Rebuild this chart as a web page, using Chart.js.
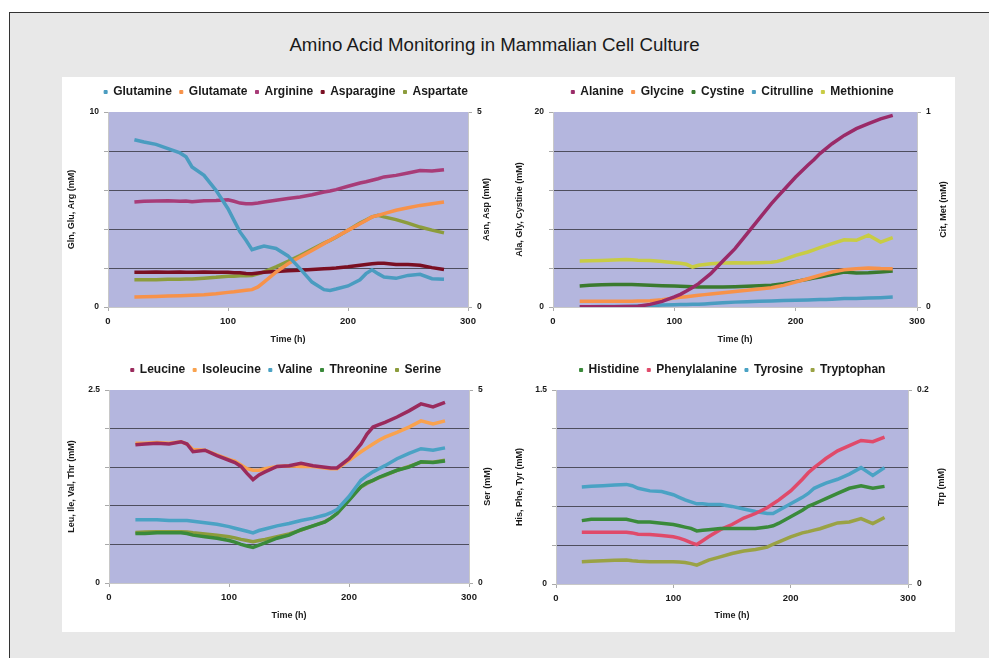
<!DOCTYPE html>
<html><head><meta charset="utf-8">
<script src="https://cdn.jsdelivr.net/npm/chart.js@4.4.0/dist/chart.umd.min.js"></script>
<style>
body{margin:0;width:989px;height:658px;background:#fff;position:relative;overflow:hidden;font-family:"Liberation Sans",Arial,sans-serif;}
#frame{position:absolute;left:9px;top:12px;width:990px;height:660px;border:1px solid #333;background:#e8e8e8;}
#title{position:absolute;left:0;width:989px;top:34px;text-align:center;font-size:18.7px;color:#1a1a1a;}
#panel{position:absolute;left:62px;top:77px;width:893px;height:555px;background:#fff;}
.c{position:absolute;}
</style></head><body>
<div id="frame"></div>
<div id="title">Amino Acid Monitoring in Mammalian Cell Culture</div>
<div id="panel"></div>
<canvas class="c" id="c1" width="448" height="278" style="left:62px;top:78px"></canvas>
<canvas class="c" id="c2" width="445" height="278" style="left:510px;top:78px"></canvas>
<canvas class="c" id="c3" width="448" height="276" style="left:62px;top:356px"></canvas>
<canvas class="c" id="c4" width="445" height="276" style="left:510px;top:356px"></canvas>
<script>
// Time points (h)
const times = [22,30,40,50,60,65,70,80,90,100,105,110,115,120,125,130,140,150,160,170,180,185,190,200,210,215,220,225,230,240,250,260,270,280];
const xTicks = [0,100,200,300];

// Panel 1 (mM)
const glutamine  = [8.58,8.46,8.34,8.12,7.9,7.7,7.18,6.75,5.98,5.04,4.44,3.85,3.42,2.94,3.04,3.13,3.0,2.62,1.97,1.28,0.89,0.85,0.92,1.08,1.4,1.71,1.91,1.71,1.54,1.47,1.62,1.68,1.45,1.42];
const glutamate  = [0.51,0.52,0.54,0.56,0.58,0.59,0.6,0.63,0.68,0.75,0.78,0.82,0.86,0.89,1.03,1.28,1.79,2.22,2.56,2.9,3.25,3.42,3.59,3.93,4.27,4.44,4.62,4.7,4.79,4.96,5.09,5.21,5.3,5.38];
const arginine   = [5.38,5.42,5.44,5.45,5.42,5.44,5.4,5.45,5.46,5.5,5.42,5.33,5.3,5.3,5.33,5.38,5.47,5.56,5.64,5.76,5.9,5.95,6.02,6.19,6.36,6.42,6.5,6.58,6.67,6.75,6.87,7.0,6.97,7.04];
const asparagine = [0.89,0.89,0.9,0.89,0.9,0.89,0.89,0.9,0.89,0.89,0.88,0.88,0.86,0.85,0.87,0.89,0.91,0.93,0.94,0.96,0.98,0.99,1.0,1.03,1.07,1.09,1.11,1.12,1.12,1.09,1.09,1.07,1.01,0.96];
const aspartate  = [0.70,0.70,0.70,0.71,0.71,0.72,0.72,0.74,0.76,0.79,0.79,0.80,0.80,0.81,0.85,0.90,1.03,1.17,1.32,1.48,1.64,1.71,1.79,1.97,2.15,2.23,2.31,2.35,2.31,2.24,2.15,2.05,1.97,1.9];

// Panel 2 (mM)
const alanine    = [0.02,0.02,0.02,0.03,0.04,0.05,0.07,0.27,0.58,1.03,1.3,1.64,2.0,2.39,2.9,3.42,4.72,5.98,7.52,9.06,10.6,11.3,11.97,13.33,14.53,15.1,15.73,16.25,16.75,17.6,18.29,18.8,19.3,19.66];
const glycine    = [0.58,0.58,0.58,0.6,0.6,0.6,0.62,0.65,0.75,0.92,0.99,1.06,1.13,1.2,1.27,1.33,1.47,1.59,1.71,1.84,1.98,2.1,2.22,2.56,2.9,3.08,3.25,3.42,3.59,3.83,3.93,4.0,3.95,3.93];
const cystine    = [2.15,2.22,2.29,2.3,2.32,2.3,2.27,2.22,2.18,2.15,2.12,2.1,2.07,2.05,2.05,2.06,2.05,2.08,2.12,2.17,2.22,2.3,2.39,2.63,2.84,2.96,3.08,3.2,3.32,3.59,3.5,3.52,3.6,3.69];
const citrulline = [0.001,0.001,0.002,0.002,0.003,0.004,0.005,0.007,0.01,0.012,0.013,0.013,0.014,0.014,0.016,0.018,0.022,0.025,0.027,0.029,0.031,0.032,0.033,0.034,0.036,0.037,0.038,0.039,0.04,0.043,0.044,0.046,0.048,0.051];
const methionine = [0.236,0.237,0.239,0.241,0.244,0.242,0.24,0.238,0.233,0.227,0.224,0.219,0.205,0.214,0.218,0.222,0.226,0.227,0.226,0.227,0.229,0.234,0.243,0.265,0.282,0.293,0.304,0.315,0.325,0.345,0.342,0.368,0.333,0.356];

// Panel 3 (mM)
const leucine    = [1.79,1.8,1.81,1.8,1.83,1.8,1.70,1.72,1.65,1.59,1.56,1.51,1.42,1.34,1.40,1.44,1.51,1.52,1.55,1.52,1.5,1.49,1.49,1.61,1.8,1.93,2.02,2.05,2.08,2.15,2.23,2.32,2.28,2.34];
const isoleucine = [1.81,1.81,1.82,1.81,1.83,1.8,1.73,1.72,1.66,1.6,1.58,1.53,1.48,1.46,1.46,1.48,1.51,1.52,1.51,1.51,1.49,1.48,1.48,1.59,1.70,1.75,1.8,1.85,1.89,1.95,2.02,2.1,2.06,2.1];
const valine     = [0.82,0.82,0.82,0.81,0.81,0.81,0.8,0.78,0.76,0.73,0.71,0.69,0.67,0.65,0.68,0.70,0.74,0.77,0.81,0.84,0.88,0.91,0.95,1.12,1.33,1.39,1.44,1.48,1.52,1.61,1.68,1.74,1.72,1.75];
const threonine  = [0.64,0.64,0.65,0.65,0.65,0.64,0.62,0.6,0.58,0.55,0.53,0.5,0.48,0.46,0.49,0.52,0.58,0.62,0.69,0.74,0.79,0.84,0.9,1.07,1.25,1.3,1.33,1.37,1.4,1.46,1.5,1.57,1.56,1.58];
const serine     = [1.31,1.32,1.33,1.33,1.33,1.32,1.3,1.27,1.24,1.2,1.17,1.13,1.1,1.07,1.1,1.13,1.2,1.27,1.37,1.48,1.59,1.68,1.8,2.16,2.49,2.58,2.66,2.73,2.79,2.92,3.02,3.13,3.13,3.18];

// Panel 4 (mM)
const histidine     = [0.49,0.5,0.5,0.5,0.5,0.49,0.48,0.48,0.47,0.46,0.45,0.44,0.43,0.41,0.415,0.42,0.43,0.43,0.43,0.43,0.44,0.45,0.47,0.52,0.57,0.6,0.62,0.64,0.66,0.70,0.74,0.76,0.74,0.755];
const phenylalanine = [0.40,0.40,0.40,0.40,0.40,0.395,0.385,0.383,0.375,0.365,0.355,0.34,0.32,0.305,0.335,0.365,0.42,0.46,0.51,0.545,0.59,0.62,0.65,0.72,0.81,0.86,0.90,0.935,0.97,1.03,1.07,1.11,1.10,1.135];
const tyrosine      = [0.75,0.755,0.76,0.765,0.77,0.76,0.74,0.72,0.715,0.69,0.67,0.65,0.635,0.62,0.62,0.615,0.615,0.6,0.58,0.56,0.545,0.545,0.57,0.62,0.67,0.7,0.74,0.76,0.78,0.81,0.85,0.90,0.84,0.90];
const tryptophan    = [0.023,0.0235,0.024,0.0245,0.0248,0.024,0.0235,0.023,0.023,0.023,0.0228,0.0222,0.021,0.0195,0.022,0.0247,0.028,0.0315,0.034,0.0356,0.038,0.041,0.0435,0.0486,0.0527,0.054,0.0555,0.057,0.059,0.063,0.064,0.0675,0.0623,0.0685];

const FONT = '"Liberation Sans", Arial, sans-serif';
const BG = '#b4b6de';
const plotBg = {
  id:'plotBg',
  beforeDraw(chart){
    const {ctx, chartArea:a} = chart;
    ctx.save(); ctx.fillStyle = BG; ctx.fillRect(a.left, a.top, a.right-a.left, a.bottom-a.top); ctx.restore();
  }
};
const legendGap = {
  id:'legendGap',
  beforeInit(chart){
    const lg = chart.legend; if (!lg) return;
    const fit = lg.fit;
    lg.fit = function(){ fit.call(lg); lg.height += 4; };
  }
};
// right-hand axis title, reading bottom-to-top like the left one
const rightTitle = {
  id:'rightTitle',
  afterDraw(chart, args, opts){
    const {ctx, chartArea:a} = chart;
    ctx.save();
    ctx.translate(opts.x, (a.top + a.bottom) / 2);
    ctx.rotate(-Math.PI / 2);
    ctx.font = 'bold 9px ' + FONT;
    ctx.fillStyle = '#1a1a1a';
    ctx.textAlign = 'center'; ctx.textBaseline = 'middle';
    ctx.fillText(opts.text, 0, 0);
    ctx.restore();
  }
};

function pts(arr){ return arr.map((v,i)=>({x:times[i], y:v})); }

function makeChart(id, cfg){
  const xTickFont = {family:FONT, size:9.5, weight:'bold'};
  const yTickFont = {family:FONT, size:8.5, weight:'bold'};
  const titleFont = {family:FONT, size:9, weight:'bold'};
  const datasets = cfg.series.map(s => ({
    label:s.label, data:pts(s.data), borderColor:s.color, backgroundColor:s.color,
    borderWidth:3.5, pointRadius:0, tension:0, yAxisID:s.axis, pointStyle:'rect'
  }));
  const endOnly = (max) => (v) => (v === 0 || Math.abs(v - max) < 1e-9) ? String(v) : '';
  new Chart(document.getElementById(id), {
    type:'line',
    data:{datasets},
    plugins:[plotBg, legendGap, rightTitle],
    options:{
      responsive:false, animation:false, devicePixelRatio:1,
      layout:{padding:{top:0,left:0,right:0,bottom:0}},
      plugins:{
        legend:{position:'top', labels:{usePointStyle:true, pointStyle:'rect', boxWidth:3, boxHeight:3, padding:8,
          color:'#1a1a1a', font:{family:FONT, size:12, weight:'bold'},
          generateLabels:(chart)=>Chart.defaults.plugins.legend.labels.generateLabels(chart).map(l=>Object.assign(l,{lineWidth:1}))}},
        tooltip:{enabled:false},
        rightTitle:{x:cfg.rtx, text:cfg.rtitle}
      },
      scales:{
        x:{type:'linear', min:0, max:300, afterBuildTicks:(s)=>{s.ticks = xTicks.map(v=>({value:v}));},
          grid:{drawOnChartArea:false, tickLength:4, color:'#aaaaaa'}, border:{color:'#c8c8c8'},
          ticks:{font:xTickFont, color:'#1a1a1a', padding:5, maxRotation:0},
          title:{display:true, text:'Time (h)', font:titleFont, color:'#1a1a1a', padding:{top:2,bottom:11}},
          afterFit:(s)=>{s.height = cfg.xh;}},
        yL:{position:'left', min:0, max:cfg.lmax, afterBuildTicks:(s)=>{s.ticks = cfg.lticks.map(v=>({value:v}));},
          grid:{color:(c)=> (c.tick && (c.tick.value===0 || c.tick.value===cfg.lmax)) ? 'rgba(0,0,0,0)' : '#4e4e5e', tickLength:4, tickColor:'#aaaaaa', lineWidth:1},
          border:{color:'#c8c8c8'},
          ticks:{font:yTickFont, color:'#1a1a1a', padding:5, callback:endOnly(cfg.lmax)},
          title:{display:true, text:cfg.ltitle, font:titleFont, color:'#1a1a1a', padding:{top:4,bottom:0}},
          afterFit:(s)=>{s.width = cfg.lw;}},
        yR:{position:'right', min:0, max:cfg.rmax, afterBuildTicks:(s)=>{s.ticks = cfg.rticks.map(v=>({value:v}));},
          grid:{drawOnChartArea:false, tickLength:4, color:'#aaaaaa'}, border:{color:'#c8c8c8'},
          ticks:{font:yTickFont, color:'#1a1a1a', padding:5, callback:endOnly(cfg.rmax)},
          title:{display:false},
          afterFit:(s)=>{s.width = cfg.rw;}}
      }
    }
  });
}

makeChart('c1', {lmax:10, lticks:[0,2,4,6,8,10], rmax:5, rticks:[0,5], ltitle:'Gln, Glu, Arg (mM)', rtitle:'Asn, Asp (mM)', rtx:425, lw:46, rw:42, xh:49,
  series:[
    {label:'Glutamine', data:glutamine, color:'#4a9cc0', axis:'yL'},
    {label:'Glutamate', data:glutamate, color:'#f7924a', axis:'yL'},
    {label:'Arginine', data:arginine, color:'#a83c78', axis:'yL'},
    {label:'Asparagine', data:asparagine, color:'#7a0f22', axis:'yR'},
    {label:'Aspartate', data:aspartate, color:'#8c9c3c', axis:'yR'}
  ]});
makeChart('c2', {lmax:20, lticks:[0,4,8,12,16,20], rmax:1, rticks:[0,1], ltitle:'Ala, Gly, Cystine (mM)', rtitle:'Cit, Met (mM)', rtx:434, lw:43, rw:38, xh:49,
  series:[
    {label:'Alanine', data:alanine, color:'#9a2a68', axis:'yL'},
    {label:'Glycine', data:glycine, color:'#f7924a', axis:'yL'},
    {label:'Cystine', data:cystine, color:'#3a7a2e', axis:'yL'},
    {label:'Citrulline', data:citrulline, color:'#4a9cc0', axis:'yR'},
    {label:'Methionine', data:methionine, color:'#c8cc44', axis:'yR'}
  ]});
makeChart('c3', {lmax:2.5, lticks:[0,0.5,1,1.5,2,2.5], rmax:5, rticks:[0,5], ltitle:'Leu, Ile, Val, Thr (mM)', rtitle:'Ser (mM)', rtx:426, lw:47, rw:41, xh:49,
  series:[
    {label:'Leucine', data:leucine, color:'#9a2a5c', axis:'yL'},
    {label:'Isoleucine', data:isoleucine, color:'#f9a24e', axis:'yL'},
    {label:'Valine', data:valine, color:'#4aa2c4', axis:'yL'},
    {label:'Threonine', data:threonine, color:'#3a8a3a', axis:'yL'},
    {label:'Serine', data:serine, color:'#8c9c3c', axis:'yR'}
  ]});
makeChart('c4', {lmax:1.5, lticks:[0,0.3,0.6,0.9,1.2,1.5], rmax:0.2, rticks:[0,0.2], ltitle:'His, Phe, Tyr (mM)', rtitle:'Trp (mM)', rtx:432, lw:46, rw:47, xh:48,
  series:[
    {label:'Histidine', data:histidine, color:'#3a8a3a', axis:'yL'},
    {label:'Phenylalanine', data:phenylalanine, color:'#e04a6a', axis:'yL'},
    {label:'Tyrosine', data:tyrosine, color:'#4aa2c4', axis:'yL'},
    {label:'Tryptophan', data:tryptophan, color:'#9aa244', axis:'yR'}
  ]});
</script>
</body></html>
